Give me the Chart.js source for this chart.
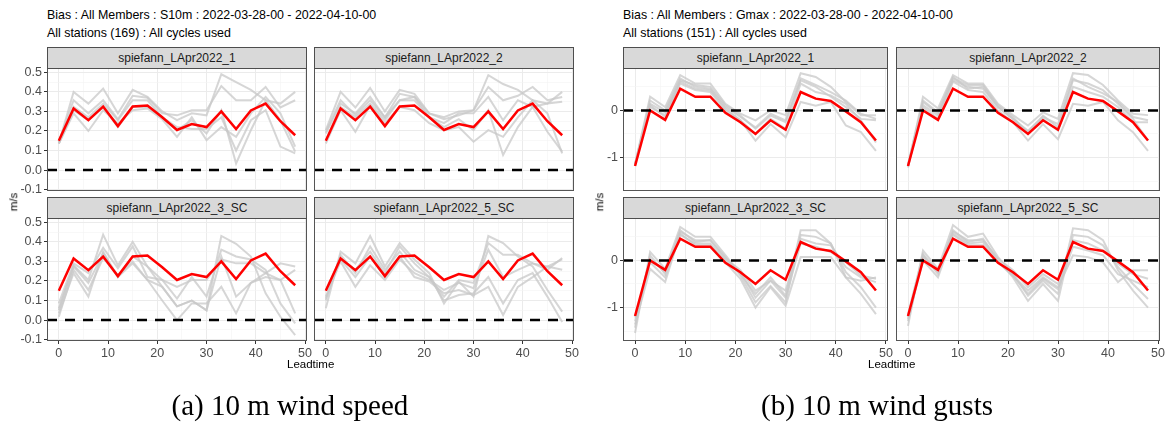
<!DOCTYPE html>
<html>
<head>
<meta charset="utf-8">
<script src="https://cdn.jsdelivr.net/npm/chart.js@4.4.1/dist/chart.umd.min.js"></script>
<style>
  body { margin: 0; background: #fff; width: 1166px; height: 426px; position: relative; overflow: hidden;
         font-family: "Liberation Sans", Arial, sans-serif; }
  .abs { position: absolute; white-space: nowrap; }
  .title { font-size: 12.4px; color: #000; line-height: 14px; }
  .strip { background: #D9D9D9; border: 1px solid #4d4d4d; box-sizing: border-box; font-size: 12px;
           color: #1a1a1a; text-align: center; line-height: 20px; }
  .axtitle { font-size: 11.5px; color: #000; }
  .caption { font-family: "Liberation Serif", "Times New Roman", serif; font-size: 29px; color: #000; }
  canvas { position: absolute; }
</style>
</head>
<body>
<script>
// ---- data ----
const leadtime = [0, 3, 6, 9, 12, 15, 18, 21, 24, 27, 30, 33, 36, 39, 42, 45, 48];
const panelNames = ['spiefann_LApr2022_1', 'spiefann_LApr2022_2', 'spiefann_LApr2022_3_SC', 'spiefann_LApr2022_5_SC'];

const xMajor = [0, 10, 20, 30, 40, 50];
const xMinor = [5, 15, 25, 35, 45];
const speedMajor = [-0.1, 0, 0.1, 0.2, 0.3, 0.4, 0.5];
const speedMinor = [-0.05, 0.05, 0.15, 0.25, 0.35, 0.45];
const gustMajor = [-1, 0];
const gustMinor = [-1.5, -0.5, 0.5];

// 10 m wind speed bias (m/s): red = all-member line, grey = individual members
const speedMean = [0.15, 0.315, 0.255, 0.325, 0.225, 0.325, 0.33, 0.27, 0.205, 0.235, 0.22, 0.30, 0.21, 0.305, 0.34, 0.25, 0.178];
const speedP1 = [
  [0.136, 0.40, 0.34, 0.417, 0.29, 0.41, 0.374, 0.30, 0.255, 0.29, 0.28, 0.49, 0.45, 0.41, 0.357, 0.34, 0.40],
  [0.145, 0.357, 0.29, 0.357, 0.26, 0.38, 0.37, 0.29, 0.28, 0.306, 0.306, 0.43, 0.357, 0.357, 0.425, 0.32, 0.357],
  [0.136, 0.29, 0.20, 0.306, 0.24, 0.306, 0.315, 0.26, 0.17, 0.27, 0.153, 0.22, 0.17, 0.29, 0.374, 0.29, 0.12],
  [0.136, 0.323, 0.27, 0.34, 0.255, 0.357, 0.357, 0.27, 0.22, 0.21, 0.21, 0.27, 0.10, 0.255, 0.306, 0.12, 0.085],
  [0.136, 0.306, 0.255, 0.323, 0.22, 0.323, 0.323, 0.27, 0.204, 0.255, 0.187, 0.306, 0.034, 0.204, 0.357, 0.255, 0.094]
];
const speedP2 = [
  [0.204, 0.40, 0.32, 0.42, 0.30, 0.41, 0.39, 0.29, 0.26, 0.28, 0.306, 0.485, 0.44, 0.41, 0.357, 0.34, 0.40],
  [0.196, 0.357, 0.28, 0.357, 0.27, 0.39, 0.374, 0.29, 0.27, 0.30, 0.306, 0.425, 0.357, 0.38, 0.425, 0.357, 0.374],
  [0.136, 0.306, 0.196, 0.33, 0.24, 0.323, 0.306, 0.24, 0.204, 0.22, 0.145, 0.204, 0.17, 0.27, 0.357, 0.29, 0.085],
  [0.153, 0.323, 0.27, 0.34, 0.255, 0.357, 0.374, 0.27, 0.22, 0.26, 0.204, 0.306, 0.077, 0.22, 0.323, 0.196, 0.094],
  [0.187, 0.34, 0.29, 0.374, 0.27, 0.357, 0.357, 0.27, 0.24, 0.29, 0.29, 0.374, 0.255, 0.357, 0.323, 0.34, 0.35]
];
const speedP3 = [
  [0.05, 0.28, 0.205, 0.437, 0.28, 0.40, 0.274, 0.17, 0.07, 0.10, 0.05, 0.43, 0.39, 0.325, 0.137, 0.017, -0.077],
  [0.085, 0.29, 0.24, 0.37, 0.265, 0.377, 0.22, 0.205, 0.11, 0.22, 0.12, 0.36, 0.325, 0.31, 0.257, 0.085, -0.017],
  [0.017, 0.257, 0.154, 0.317, 0.23, 0.30, 0.205, 0.10, 0.0, 0.085, 0.085, 0.17, 0.034, 0.19, 0.24, 0.29, 0.274],
  [0.034, 0.24, 0.12, 0.35, 0.22, 0.325, 0.274, 0.205, 0.17, 0.205, 0.205, 0.31, 0.29, 0.29, 0.24, 0.205, 0.034],
  [0.06, 0.274, 0.19, 0.34, 0.22, 0.29, 0.205, 0.17, 0.07, 0.10, 0.05, 0.325, 0.12, 0.19, 0.22, 0.205, 0.257]
];
const speedP4 = [
  [0.06, 0.35, 0.29, 0.43, 0.274, 0.394, 0.31, 0.24, 0.085, 0.197, 0.12, 0.43, 0.394, 0.325, 0.274, 0.154, 0.043],
  [0.10, 0.334, 0.24, 0.377, 0.257, 0.35, 0.257, 0.22, 0.12, 0.205, 0.19, 0.394, 0.334, 0.334, 0.29, 0.274, 0.257],
  [0.12, 0.30, 0.17, 0.28, 0.205, 0.31, 0.24, 0.205, 0.154, 0.19, 0.163, 0.36, 0.22, 0.257, 0.29, 0.257, 0.317],
  [0.154, 0.31, 0.22, 0.325, 0.22, 0.325, 0.22, 0.197, 0.137, 0.154, 0.128, 0.17, 0.026, 0.17, 0.22, 0.274, 0.31],
  [0.11, 0.317, 0.257, 0.35, 0.24, 0.377, 0.29, 0.22, 0.10, 0.128, 0.137, 0.22, 0.085, 0.205, 0.24, 0.12, -0.01]
];

// 10 m wind gust bias (m/s)
const gustMean = [-1.18, 0.0, -0.2, 0.46, 0.29, 0.29, -0.05, -0.25, -0.5, -0.21, -0.41, 0.39, 0.25, 0.2, -0.02, -0.25, -0.64];
const gustP1 = [
  [-1.14, 0.29, 0.07, 0.75, 0.57, 0.57, 0.14, -0.07, -0.21, 0.0, -0.1, 0.79, 0.71, 0.5, 0.18, -0.1, -0.1],
  [-1.14, 0.21, 0.0, 0.68, 0.5, 0.46, 0.07, -0.14, -0.36, -0.07, -0.21, 0.68, 0.54, 0.39, 0.21, -0.07, -0.18],
  [-1.14, 0.07, -0.1, 0.57, 0.43, 0.39, 0.0, -0.21, -0.64, -0.29, -0.57, 0.18, 0.1, 0.18, -0.32, -0.46, -0.86],
  [-1.14, 0.11, -0.14, 0.61, 0.46, 0.43, 0.04, -0.21, -0.5, -0.18, -0.39, 0.57, 0.39, 0.32, 0.14, -0.21, -0.68],
  [-1.14, 0.14, -0.04, 0.64, 0.54, 0.5, 0.11, -0.11, -0.39, -0.11, -0.25, 0.64, 0.5, 0.29, 0.07, -0.18, -0.21]
];
const gustP2 = [
  [-1.18, 0.29, 0.04, 0.75, 0.57, 0.57, 0.14, -0.1, -0.32, -0.04, -0.18, 0.79, 0.75, 0.54, 0.21, -0.07, -0.1],
  [-1.14, 0.18, -0.07, 0.64, 0.5, 0.46, 0.07, -0.18, -0.43, -0.14, -0.29, 0.68, 0.5, 0.36, 0.18, -0.14, -0.21],
  [-1.18, 0.07, -0.18, 0.61, 0.43, 0.39, 0.0, -0.25, -0.64, -0.29, -0.61, 0.14, 0.1, 0.18, -0.21, -0.46, -0.86],
  [-1.18, 0.11, -0.11, 0.68, 0.54, 0.54, 0.11, -0.14, -0.5, -0.18, -0.43, 0.5, 0.39, 0.29, 0.07, -0.25, -0.25],
  [-1.21, 0.21, -0.04, 0.71, 0.46, 0.5, 0.07, -0.18, -0.46, -0.11, -0.36, 0.64, 0.57, 0.43, 0.14, -0.18, -0.64]
];
const gustP3 = [
  [-1.54, 0.18, -0.18, 0.71, 0.5, 0.5, 0.11, -0.29, -0.71, -0.36, -0.75, 0.64, 0.64, 0.36, -0.36, -0.71, -1.14],
  [-1.43, 0.11, -0.29, 0.64, 0.39, 0.43, 0.07, -0.32, -0.89, -0.54, -0.89, 0.54, 0.5, 0.36, -0.25, -0.57, -1.0],
  [-1.36, -0.18, -0.46, 0.57, 0.32, 0.32, -0.04, -0.39, -1.0, -0.57, -0.96, 0.07, 0.07, 0.07, -0.36, -0.43, -0.36],
  [-1.29, 0.04, -0.25, 0.61, 0.43, 0.43, 0.04, -0.21, -0.64, -0.43, -0.64, 0.46, 0.36, 0.32, -0.14, -0.36, -0.46],
  [-1.21, -0.04, -0.36, 0.54, 0.36, 0.36, 0.0, -0.25, -0.79, -0.43, -0.79, 0.36, 0.29, 0.18, -0.04, -0.32, -0.39]
];
const gustP4 = [
  [-1.39, 0.21, -0.18, 0.75, 0.5, 0.57, 0.07, -0.29, -0.75, -0.43, -0.71, 0.68, 0.64, 0.43, -0.21, -0.64, -1.0],
  [-1.29, 0.11, -0.29, 0.64, 0.39, 0.46, 0.0, -0.36, -0.86, -0.5, -0.86, 0.54, 0.5, 0.32, -0.14, -0.5, -0.82],
  [-1.25, 0.0, -0.36, 0.54, 0.32, 0.32, -0.04, -0.32, -0.64, -0.36, -0.57, 0.11, 0.07, -0.04, -0.46, -0.21, -0.21],
  [-1.21, 0.07, -0.21, 0.61, 0.43, 0.43, 0.04, -0.21, -0.57, -0.29, -0.5, 0.43, 0.36, 0.21, -0.07, -0.29, -0.39],
  [-1.14, 0.14, -0.25, 0.57, 0.36, 0.39, -0.04, -0.32, -0.71, -0.39, -0.61, 0.29, 0.21, 0.11, -0.29, -0.43, -0.57]
];

// ---- layout helpers ----
Chart.defaults.font.family = '"Liberation Sans", Arial, sans-serif';
Chart.defaults.font.size = 12.5;
Chart.defaults.color = '#4D4D4D';

function addText(cls, text, css) {
  const d = document.createElement('div');
  d.className = 'abs ' + cls;
  d.textContent = text;
  Object.assign(d.style, css);
  document.body.appendChild(d);
  return d;
}

const panelFrame = {
  id: 'panelFrame',
  afterDatasetsDraw(chart) {
    const { ctx, chartArea: a, scales } = chart;
    const y0 = scales.y.getPixelForValue(0);
    ctx.save();
    ctx.strokeStyle = '#000';
    ctx.lineWidth = 2.5;
    ctx.setLineDash([10, 8]);
    ctx.beginPath();
    ctx.moveTo(a.left, y0);
    ctx.lineTo(a.right, y0);
    ctx.stroke();
    ctx.restore();
  },
  afterDraw(chart) {
    const { ctx, chartArea: a } = chart;
    ctx.save();
    ctx.strokeStyle = '#555';
    ctx.lineWidth = 1;
    ctx.strokeRect(a.left + 0.5, a.top + 0.5, a.right - a.left - 1, a.bottom - a.top - 1);
    ctx.restore();
  }
};

function isIn(list, v) { return list.some(m => Math.abs(m - v) < 1e-9); }

function panel(p) {
  const yW = p.showY ? 26 : 0;
  const xH = p.showX ? 22 : 0;
  const pad = { left: 2, top: 8, right: 10, bottom: 2 };
  const cv = document.createElement('canvas');
  const cw = pad.left + yW + p.w + pad.right;
  const ch = pad.top + p.h + xH + pad.bottom;
  cv.width = cw; cv.height = ch;
  cv.style.width = cw + 'px'; cv.style.height = ch + 'px';
  cv.style.left = (p.left - yW - pad.left) + 'px';
  cv.style.top = (p.top - pad.top) + 'px';
  document.body.appendChild(cv);

  // strip label
  addText('strip', p.name, { left: p.left + 'px', top: (p.top - 21) + 'px', width: p.w + 'px', height: '22px' });

  const datasets = [{
    data: leadtime.map((x, i) => ({ x, y: p.mean[i] })),
    borderColor: '#FF0000', borderWidth: 2.5, pointRadius: 0
  }].concat(p.members.map(m => ({
    data: leadtime.map((x, i) => ({ x, y: m[i] })),
    borderColor: 'rgba(200,200,200,0.75)', borderWidth: 2, pointRadius: 0
  })));

  const gridColor = (majors) => (c) => isIn(majors, c.tick.value) ? '#EBEBEB' : '#F4F4F4';
  const gridWidth = (majors) => (c) => isIn(majors, c.tick.value) ? 1 : 0.6;
  const tickColor = (majors) => (c) => isIn(majors, c.tick.value) ? '#333' : 'rgba(0,0,0,0)';

  new Chart(cv, {
    type: 'line',
    data: { datasets },
    plugins: [panelFrame],
    options: {
      responsive: false, animation: false, devicePixelRatio: 1,
      layout: { padding: pad },
      plugins: { legend: { display: false }, tooltip: { enabled: false } },
      scales: {
        x: {
          type: 'linear', min: -2.4, max: 50.4,
          afterBuildTicks: s => { s.ticks = xMajor.concat(xMinor).sort((a, b) => a - b).map(v => ({ value: v })); },
          afterFit: s => { s.height = xH; s.paddingLeft = 0; s.paddingRight = 0; },
          border: { display: false },
          grid: { color: gridColor(xMajor), lineWidth: gridWidth(xMajor), drawTicks: p.showX,
                  tickLength: 3, tickColor: tickColor(xMajor), tickWidth: 1 },
          ticks: { display: p.showX, autoSkip: false, maxRotation: 0, padding: 2,
                   callback: v => isIn(xMajor, v) ? String(v) : '' }
        },
        y: {
          type: 'linear', min: p.yMin, max: p.yMax,
          afterBuildTicks: s => { s.ticks = p.yMajor.concat(p.yMinor).sort((a, b) => a - b).map(v => ({ value: v })); },
          afterFit: s => { s.width = yW; s.paddingTop = 0; s.paddingBottom = 0; },
          border: { display: false },
          grid: { color: gridColor(p.yMajor), lineWidth: gridWidth(p.yMajor), drawTicks: p.showY,
                  tickLength: 3, tickColor: tickColor(p.yMajor), tickWidth: 1 },
          ticks: { display: p.showY, autoSkip: false, padding: 2,
                   callback: v => isIn(p.yMajor, v) ? p.fmt(v) : '' }
        }
      }
    }
  });
}

function figure(f) {
  addText('title', f.title1, { left: f.cols[0] + 'px', top: '8px' });
  addText('title', f.title2, { left: f.cols[0] + 'px', top: '26px' });
  const rows = [68, 218];
  const sets = [f.p1, f.p2, f.p3, f.p4];
  for (let r = 0; r < 2; r++) {
    for (let c = 0; c < 2; c++) {
      const k = r * 2 + c;
      panel({
        left: f.cols[c], top: rows[r], w: f.widths[c], h: 123,
        showX: r === 1, showY: c === 0, name: panelNames[k],
        members: sets[k], mean: f.mean,
        yMin: f.yMin, yMax: f.yMax, yMajor: f.yMajor, yMinor: f.yMinor, fmt: f.fmt
      });
    }
  }
  const mid = (f.cols[0] + f.cols[1] + f.widths[1]) / 2;
  const lt = addText('axtitle', 'Leadtime', { top: '358px' });
  lt.style.left = (mid - lt.offsetWidth / 2) + 'px';
  const ms = addText('axtitle', 'm/s', { top: '196px', transform: 'rotate(-90deg)', transformOrigin: 'center' });
  ms.style.left = (f.msX - ms.offsetWidth / 2) + 'px';
  const cap = addText('caption', f.caption, { top: '389px' });
  cap.style.left = (f.capX - cap.offsetWidth / 2) + 'px';
}

figure({
  title1: 'Bias : All Members : S10m : 2022-03-28-00 - 2022-04-10-00',
  title2: 'All stations (169) : All cycles used',
  cols: [47, 314], widths: [260, 260],
  p1: speedP1, p2: speedP2, p3: speedP3, p4: speedP4, mean: speedMean,
  yMin: -0.107, yMax: 0.522, yMajor: speedMajor, yMinor: speedMinor, fmt: v => v.toFixed(1),
  msX: 13, capX: 290, caption: '(a) 10 m wind speed'
});
figure({
  title1: 'Bias : All Members : Gmax : 2022-03-28-00 - 2022-04-10-00',
  title2: 'All stations (151) : All cycles used',
  cols: [623, 896], widths: [265, 264],
  p1: gustP1, p2: gustP2, p3: gustP3, p4: gustP4, mean: gustMean,
  yMin: -1.71, yMax: 0.9, yMajor: gustMajor, yMinor: gustMinor, fmt: v => String(v),
  msX: 599, capX: 877, caption: '(b) 10 m wind gusts'
});
</script>
</body>
</html>
